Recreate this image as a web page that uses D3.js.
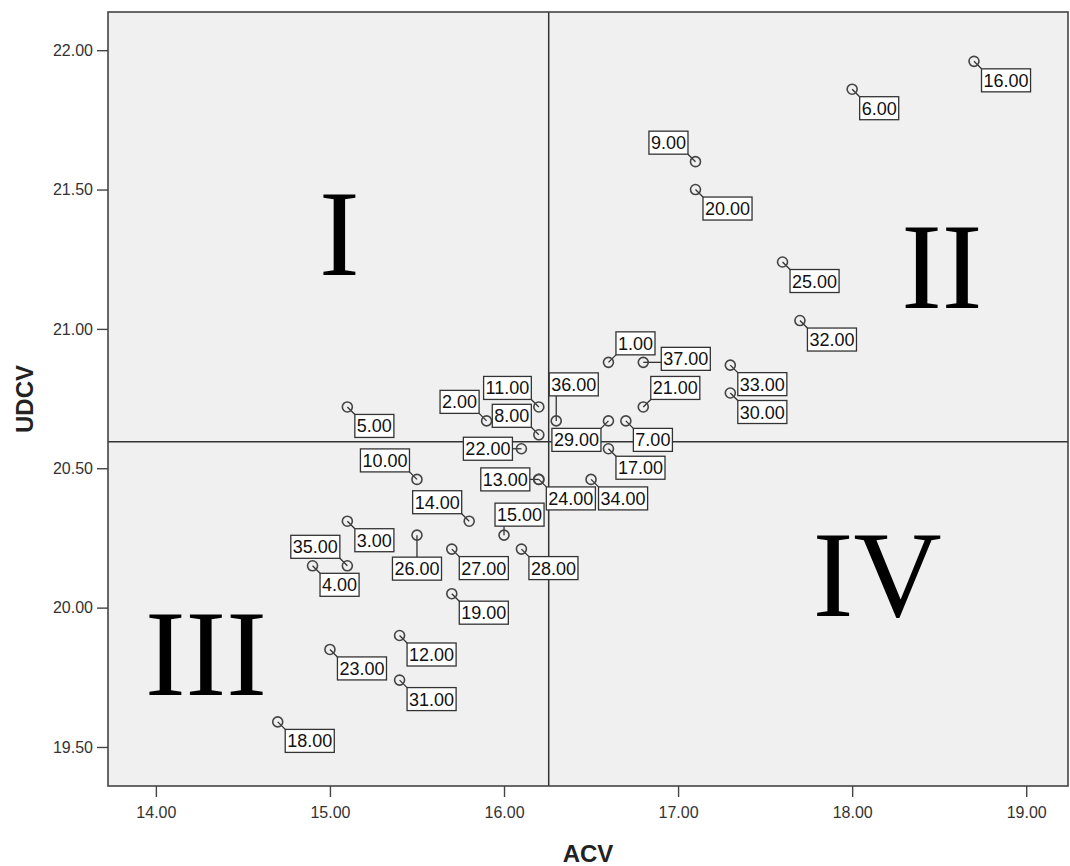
<!DOCTYPE html>
<html>
<head>
<meta charset="utf-8">
<script src="https://cdn.jsdelivr.net/npm/d3@7"></script>
<style>
  body { margin: 0; background: #fff; }
  text { font-family: Arial, "Liberation Sans", sans-serif; }
</style>
</head>
<body>
<div id="chart"></div>
<script>
// case numbers and their values
const caseIds = [1, 2, 3, 4, 5, 6, 7, 8, 9, 10, 11, 12, 13, 14, 15, 16, 17, 18, 19,
  20, 21, 22, 23, 24, 25, 26, 27, 28, 29, 30, 31, 32, 33, 34, 35, 36, 37];
const acv = [16.6, 15.9, 15.1, 14.9, 15.1, 18.0, 16.7, 16.2, 17.1, 15.5, 16.2, 15.4, 16.2,
  15.8, 16.0, 18.7, 16.6, 14.7, 15.7, 17.1, 16.8, 16.1, 15.0, 16.2, 17.6, 15.5, 15.7,
  16.1, 16.6, 17.3, 15.4, 17.7, 17.3, 16.5, 15.1, 16.3, 16.8];
const udcv = [20.88, 20.67, 20.31, 20.15, 20.72, 21.86, 20.67, 20.62, 21.60, 20.46, 20.72,
  19.90, 20.46, 20.31, 20.26, 21.96, 20.57, 19.59, 20.05, 21.50, 20.72, 20.57, 19.85,
  20.46, 21.24, 20.26, 20.21, 20.21, 20.67, 20.77, 19.74, 21.03, 20.87, 20.46, 20.15,
  20.67, 20.88];

const xTicks = [14, 15, 16, 17, 18, 19];
const yTicks = [19.5, 20, 20.5, 21, 21.5, 22];

// quadrant numerals (data coords of text centre / baseline)
const quadrants = [
  { text: 'I', x: 15.054, y: 21.193 },
  { text: 'II', x: 18.515, y: 21.076 },
  { text: 'III', x: 14.287, y: 19.686 },
  { text: 'IV', x: 18.144, y: 19.969 }
];

// where the label box sits relative to its point (default lower-right)
const labelSide = {
  1: 'ur', 2: 'ul', 8: 'ul', 9: 'ul', 10: 'ul', 11: 'ul', 13: 'l', 14: 'ul',
  15: 'above', 21: 'ur', 22: 'l', 26: 'below', 29: 'll', 35: 'ul', 36: 'up', 37: 'r'
};

const data = caseIds.map((id, i) => ({ id, acv: acv[i], udcv: udcv[i] }));

const W = 1070, H = 866;
const margin = { top: 12, right: 2, bottom: 80, left: 108 };
const width = W - margin.left - margin.right;
const height = H - margin.top - margin.bottom;

const svg = d3.select('#chart').append('svg')
  .attr('width', W)
  .attr('height', H);

const g = svg.append('g')
  .attr('transform', `translate(${margin.left},${margin.top})`);

const x = d3.scaleLinear().domain([13.725, 19.24]).range([0, width]);
const y = d3.scaleLinear().domain([19.36, 22.137]).range([height, 0]);

// plot background
g.append('rect')
  .attr('width', width)
  .attr('height', height)
  .attr('fill', '#f0f0f0');

// axes
const xAxis = g.append('g')
  .attr('transform', `translate(0,${height})`)
  .call(d3.axisBottom(x).tickValues(xTicks).tickFormat(d3.format('.2f'))
    .tickSize(11).tickPadding(10).tickSizeOuter(0));
const yAxis = g.append('g')
  .call(d3.axisLeft(y).tickValues(yTicks).tickFormat(d3.format('.2f'))
    .tickSize(11).tickPadding(4).tickSizeOuter(0));

[xAxis, yAxis].forEach(a => {
  a.select('.domain').remove();
  a.selectAll('line').attr('stroke', '#444').attr('stroke-width', 1.4);
  a.selectAll('text')
    .attr('fill', '#333')
    .style('font-size', '16px')
    .style('font-family', 'Arial, "Liberation Sans", sans-serif');
});

// mean reference lines
const meanX = d3.mean(data, d => d.acv);
const meanY = d3.mean(data, d => d.udcv);

g.append('line')
  .attr('x1', x(meanX)).attr('x2', x(meanX))
  .attr('y1', 0).attr('y2', height)
  .attr('stroke', '#333').attr('stroke-width', 1.5);
g.append('line')
  .attr('x1', 0).attr('x2', width)
  .attr('y1', y(meanY)).attr('y2', y(meanY))
  .attr('stroke', '#333').attr('stroke-width', 1.5);

// quadrant numerals
g.selectAll('.quad')
  .data(quadrants)
  .enter().append('text')
  .attr('class', 'quad')
  .attr('x', d => x(d.x))
  .attr('y', d => y(d.y))
  .attr('text-anchor', 'middle')
  .style('font-family', '"Times New Roman", "Liberation Serif", serif')
  .style('font-size', '122px')
  .attr('fill', '#000')
  .text(d => d.text);

// measure label widths
const boxH = 23;
const measure = g.append('text').style('font-size', '18px');
data.forEach(d => {
  d.label = d3.format('.2f')(d.id);
  measure.text(d.label);
  d.tw = measure.node().getComputedTextLength();
  d.bw = d.tw + 4;
});
measure.remove();

// box top-left from point position
data.forEach(d => {
  const px = x(d.acv), py = y(d.udcv), w = d.bw, gap = 7.5;
  const side = labelSide[d.id] || 'lr';
  let bx, by;
  if (side === 'lr') { bx = px + gap; by = py + gap; }
  else if (side === 'ur') { bx = px + gap; by = py - gap - boxH; }
  else if (side === 'ul') { bx = px - gap - w; by = py - gap - boxH; }
  else if (side === 'll') { bx = px - gap - w; by = py + gap; }
  else if (side === 'l') { bx = px - 9 - w; by = py - boxH / 2; }
  else if (side === 'r') { bx = px + 18; by = py - 15; }
  else if (side === 'above') { bx = px - 9; by = py - 32; }
  else if (side === 'below') { bx = px - w / 2; by = py + 22; }
  else if (side === 'up') { bx = px - 7; by = py - 48; }
  d.px = px; d.py = py; d.bx = bx; d.by = by;
  // nearest point on the box for the connector
  d.cx = Math.max(bx, Math.min(px, bx + w));
  d.cy = Math.max(by, Math.min(py, by + boxH));
});

// connectors
g.selectAll('.conn')
  .data(data)
  .enter().append('line')
  .attr('class', 'conn')
  .attr('x1', d => d.px).attr('y1', d => d.py)
  .attr('x2', d => d.cx).attr('y2', d => d.cy)
  .attr('stroke', '#333')
  .attr('stroke-width', 1.3);

// points
g.selectAll('.pt')
  .data(data)
  .enter().append('circle')
  .attr('class', 'pt')
  .attr('cx', d => d.px)
  .attr('cy', d => d.py)
  .attr('r', 5)
  .attr('fill', 'none')
  .attr('stroke', '#444')
  .attr('stroke-width', 1.6);

// label boxes
const lab = g.selectAll('.lab')
  .data(data)
  .enter().append('g')
  .attr('class', 'lab')
  .attr('transform', d => `translate(${d.bx},${d.by})`);

lab.append('rect')
  .attr('width', d => d.bw)
  .attr('height', boxH)
  .attr('fill', '#fff')
  .attr('stroke', '#333')
  .attr('stroke-width', 1.3);

lab.append('text')
  .attr('x', d => d.bw / 2)
  .attr('y', 18)
  .attr('text-anchor', 'middle')
  .style('font-size', '18px')
  .attr('fill', '#111')
  .text(d => d.label);

// frame
g.append('rect')
  .attr('width', width)
  .attr('height', height)
  .attr('fill', 'none')
  .attr('stroke', '#444')
  .attr('stroke-width', 1.6);

// axis titles
svg.append('text')
  .attr('x', margin.left + width / 2)
  .attr('y', 862)
  .attr('text-anchor', 'middle')
  .style('font-size', '24px')
  .style('font-weight', 'bold')
  .attr('fill', '#222')
  .text('ACV');

svg.append('text')
  .attr('transform', `translate(33,${margin.top + height / 2}) rotate(-90)`)
  .attr('text-anchor', 'middle')
  .style('font-size', '24px')
  .style('font-weight', 'bold')
  .attr('fill', '#222')
  .text('UDCV');
</script>
</body>
</html>
